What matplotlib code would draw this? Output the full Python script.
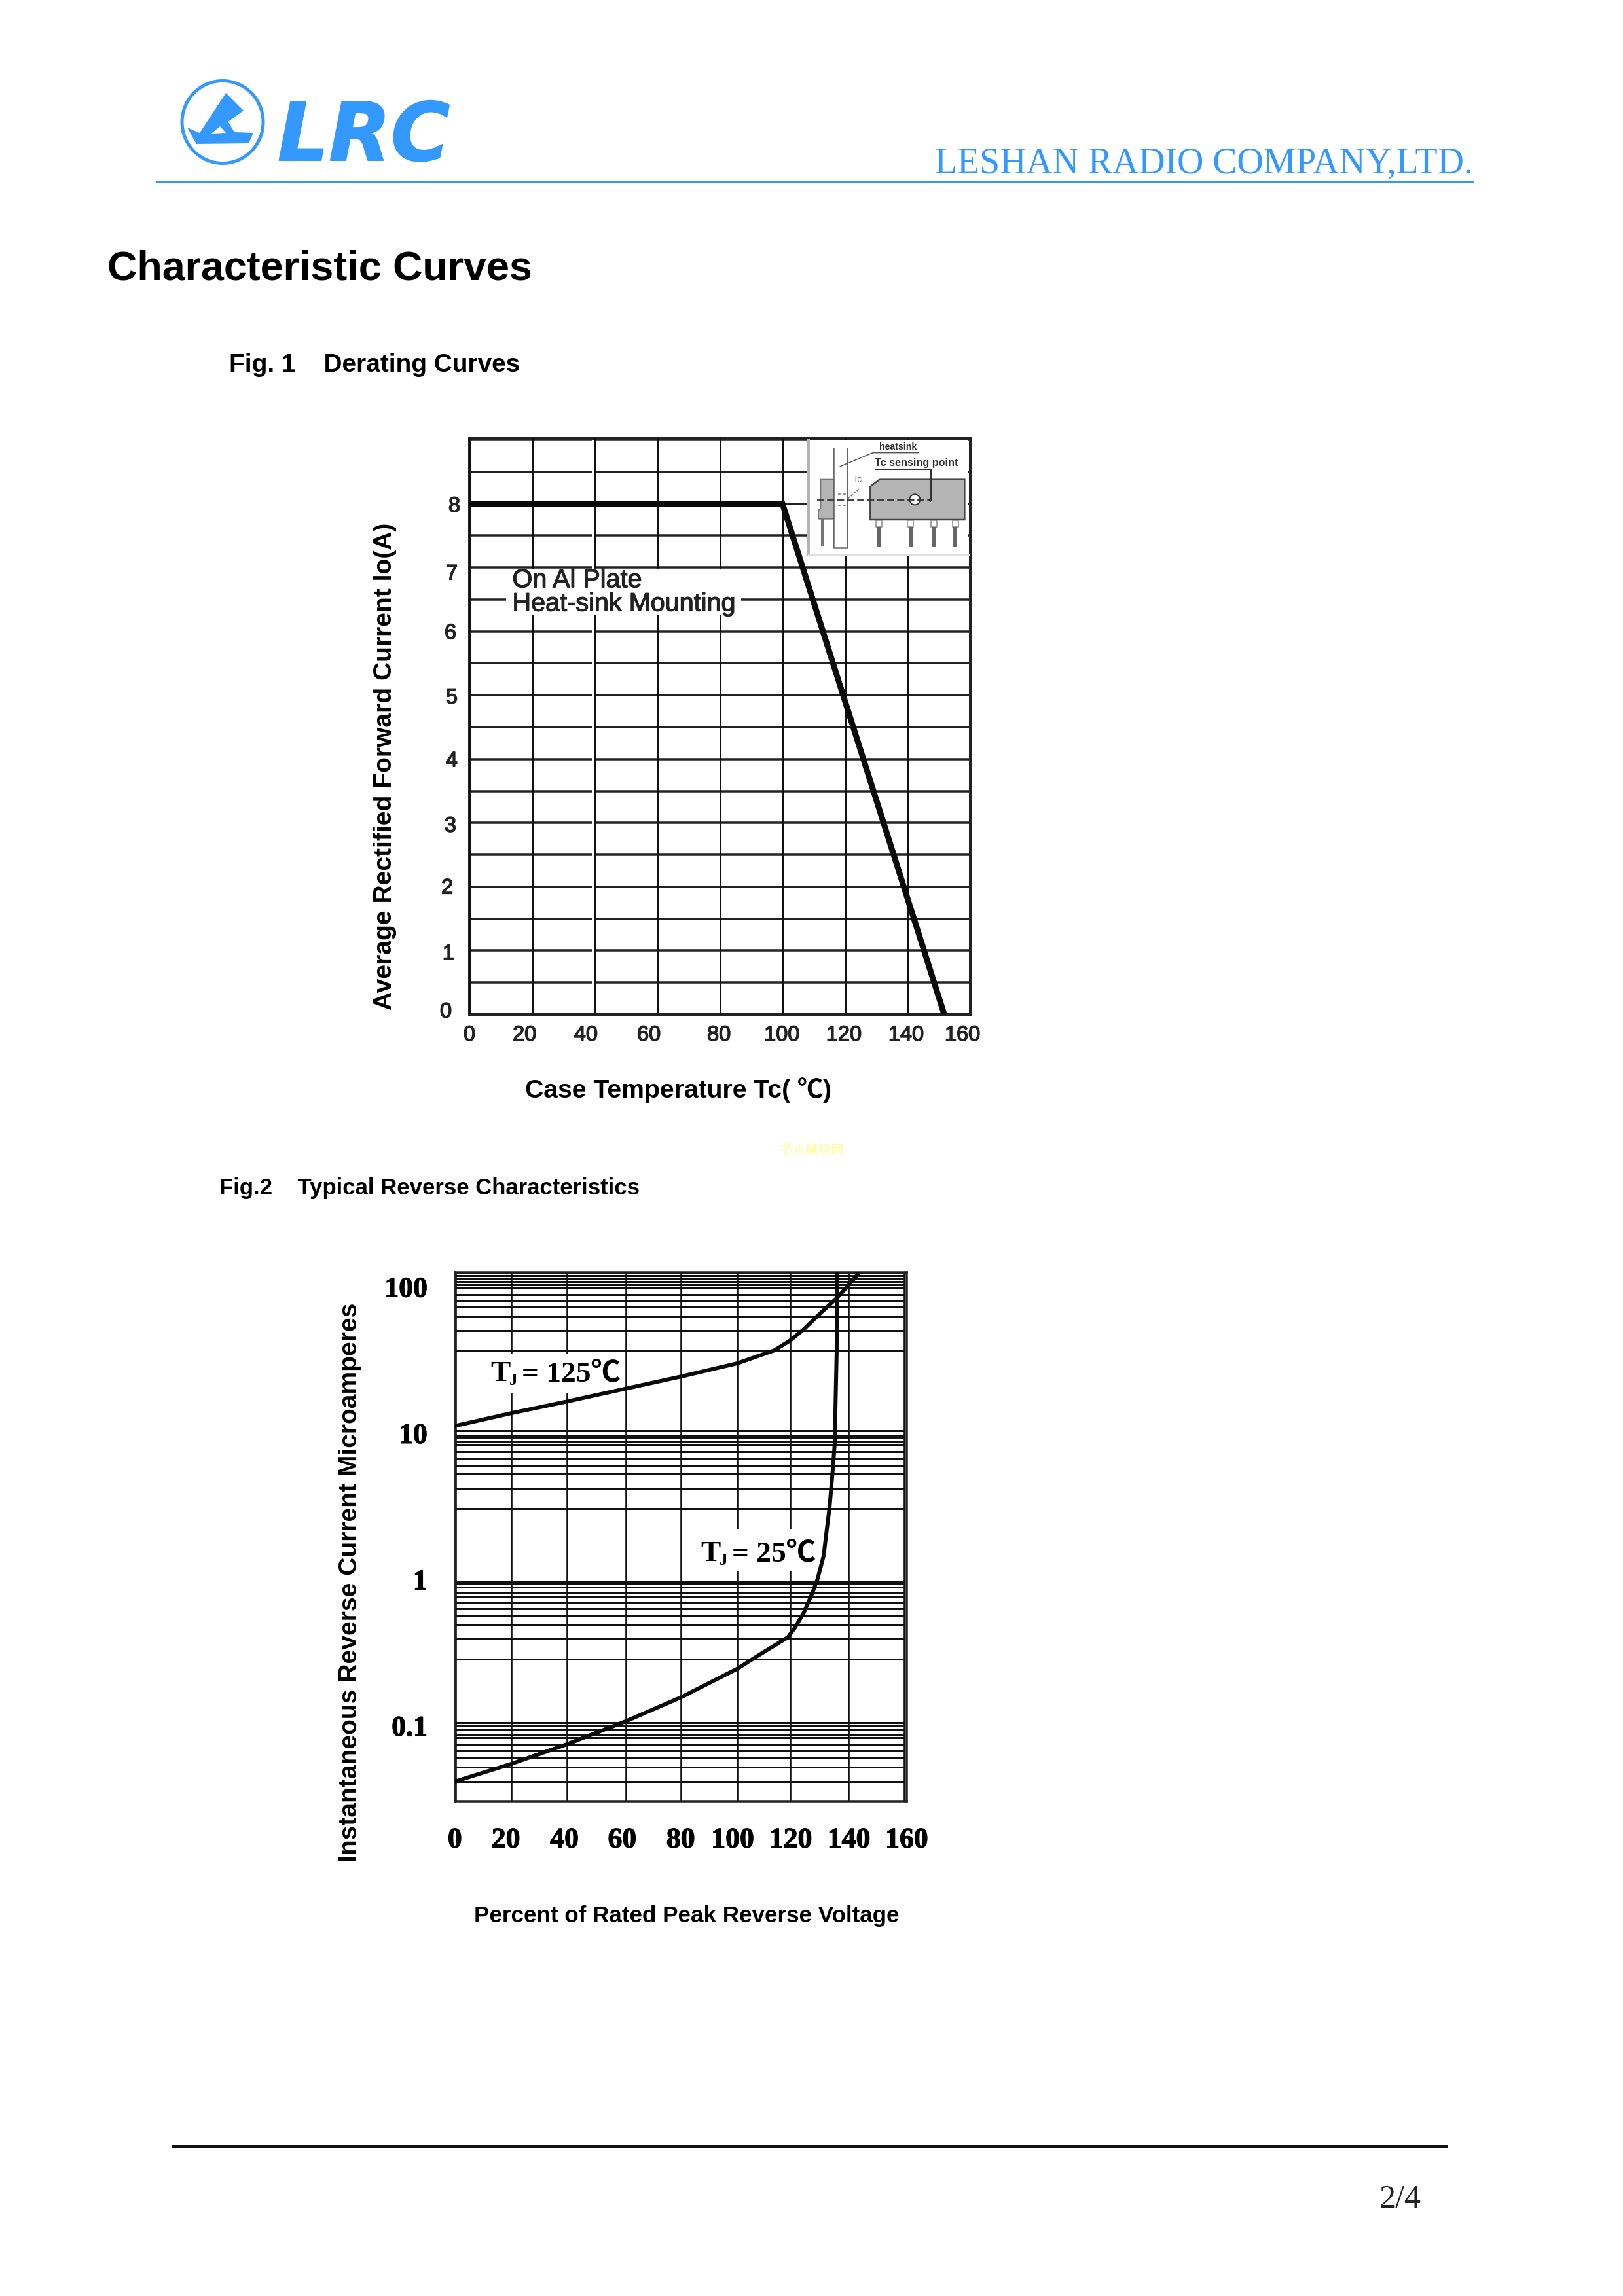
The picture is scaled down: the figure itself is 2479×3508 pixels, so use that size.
#!/usr/bin/env python3
import matplotlib

matplotlib.use("Agg")
import matplotlib.patheffects as pe
import matplotlib.pyplot as plt
from matplotlib.patches import Circle, Ellipse, Polygon, Rectangle
from matplotlib.ticker import NullLocator

W, H = 2479, 3508
DPI = 300
BLUE = "#3399ff"
SANS = ["Liberation Sans", "Noto Sans CJK SC", "DejaVu Sans"]
SERIF = ["Liberation Serif", "Noto Sans CJK SC", "DejaVu Sans"]

# Fig. 1 derating curve
derate_temp = [0, 100, 151.7]
derate_current = [8, 8, 0]
fig1_x_grid = [0, 20, 40, 60, 80, 100, 120, 140, 160]
fig1_y_grid = [0, 0.5, 1, 1.5, 2, 2.5, 3, 3.5, 4, 4.5, 5, 5.5, 6, 6.5, 7, 7.5, 8, 8.5, 9]
fig1_x_label_at = [0, 17.6, 37.2, 57.3, 79.7, 99.8, 119.6, 139.5, 157.5]
fig1_x_labels = ["0", "20", "40", "60", "80", "100", "120", "140", "160"]
fig1_y_label_at = [0.07, 0.98, 2.01, 2.98, 4.0, 4.99, 6.0, 6.93, 7.99]
fig1_y_labels = ["0", "1", "2", "3", "4", "5", "6", "7", "8"]
fig1_y_label_pad = [27, 23, 25, 20, 18, 18, 20, 18, 14]

# Fig. 2 reverse characteristics
t125_voltage = [0, 19.8, 39.7, 60.7, 80.4, 100.4, 113.7, 119.3, 124.3, 129.7, 136.0, 140.3, 143.5]
t125_current = [11.2, 13.65, 16.4, 20.1, 24.3, 29.9, 36.7, 42.8, 51.3, 64.7, 83.7, 102.8, 122]
t25_voltage = [0, 19.8, 39.7, 60.7, 80.4, 100.4, 108.4, 118.5, 121.1, 124.3, 127.0, 129.1,
               131.3, 132.3, 133.4, 134.4, 135.3, 135.5, 136.0, 136.2]
t25_current = [0.0416, 0.0547, 0.0745, 0.107, 0.156, 0.244, 0.305, 0.401, 0.468, 0.596, 0.783, 1.0,
               1.45, 2.1, 3.10, 5.20, 8.71, 14.6, 40.8, 125]
fig2_x_grid = [0, 19.8, 39.7, 60.7, 80.4, 100.4, 119.3, 140.1, 160]
fig2_y_grid = [125.3, 118.9, 114, 108.1, 103.5, 98.2, 88.1, 79.4, 72.4, 63.1, 50, 36.5,
               10.4, 9.68, 9.23, 8.73, 8.32, 7.48, 6.70, 5.98, 5.24, 4.14, 3.04,
               0.973, 0.931, 0.883, 0.811, 0.762, 0.700, 0.627, 0.560, 0.484, 0.392, 0.284,
               0.1045, 0.0998, 0.0933, 0.0871, 0.0826, 0.0745, 0.0673, 0.0607, 0.0520, 0.0416, 0.0305]
fig2_x_label_at = [-0.3, 17.9, 38.8, 59.4, 80.3, 98.8, 119.5, 140.3, 160.9]
fig2_x_labels = ["0", "20", "40", "60", "80", "100", "120", "140", "160"]
fig2_y_ticks = [0.1, 1, 10, 100]
fig2_y_labels = ["0.1", "1", "10", "100"]


def px(v):
    return v * 72 / DPI


def axes_at(fig, left, top, right, bottom, **kw):
    return fig.add_axes([left / W, 1 - bottom / H, (right - left) / W, (bottom - top) / H], **kw)


def draw_page(page):
    # logo
    page.add_patch(Ellipse((340, 186.5), 124, 126, fill=False, ec=BLUE, lw=px(5)))
    page.add_patch(Polygon([(345, 142), (372, 169), (348.5, 186), (358, 202), (387, 203), (380, 219),
                            (300, 220), (286, 195), (305, 203)], fc=BLUE, ec="none"))
    page.add_patch(Polygon([(323, 204), (336, 193), (345, 203)], fc="white", ec="none"))
    page.text(424, 245, "LRC", family="DejaVu Sans", weight="bold", style="oblique", fontsize=29.5, color=BLUE,
              ha="left", va="baseline", path_effects=[pe.withStroke(linewidth=px(2), foreground=BLUE)])
    page.text(2250, 264, "LESHAN RADIO COMPANY,LTD.", family=SERIF, fontsize=13.4, color=BLUE,
              ha="right", va="baseline")
    page.plot([238, 2252], [278, 278], color=BLUE, lw=px(4), solid_capstyle="butt")

    page.text(164, 427, "Characteristic Curves", family=SANS, weight="bold", fontsize=15.05, va="baseline")
    page.text(350, 568, "Fig. 1    Derating Curves", family=SANS, weight="bold", fontsize=9.3, va="baseline")
    page.text(335, 1825, "Fig.2    Typical Reverse Characteristics", family=SANS, weight="bold",
              fontsize=8.35, va="baseline")
    page.text(588, 1171, "Average Rectified Forward Current Io(A)", family=SANS, weight="bold", fontsize=9.37,
              rotation=90, ha="center", va="center")
    page.text(1036, 1666, "Case Temperature Tc( ℃)", family=SANS, weight="bold", fontsize=9.4,
              ha="center", va="center")
    page.text(535, 2418, "Instantaneous Reverse Current Microamperes", family=SANS, weight="bold", fontsize=9.36,
              rotation=90, ha="center", va="center")
    page.text(1049, 2928, "Percent of Rated Peak Reverse Voltage", family=SANS, weight="bold", fontsize=8.4,
              ha="center", va="center")
    page.text(1240, 1757, "芯片模块网", family=["Noto Sans CJK SC", "DejaVu Sans"], fontsize=4.7, color="#ffff99",
              ha="center", va="center")

    page.plot([262, 2211], [3280, 3280], color="#111111", lw=px(4), solid_capstyle="butt")
    page.text(2139, 3373, "2/4", family=SERIF, fontsize=12, color="#222222", ha="center", va="baseline")


def draw_inset(page):
    def p(zx, zy):
        return 1200 + zx / 3, 640 + zy / 3

    page.add_patch(Rectangle((1235, 673), 244, 174, fc="white", ec="none"))
    page.plot([1235, 1235], [673, 847], color="#b5b5b5", lw=px(4))
    page.plot([1235, 1479], [847, 847], color="#dddddd", lw=px(3))

    gray = "#b4b4b4"
    dark = "#333333"
    # side view
    page.add_patch(Polygon([p(160, 278), p(220, 278), p(220, 458), p(150, 458), p(150, 420), p(160, 410)],
                           fc=gray, ec="#777777", lw=px(2)))
    page.add_patch(Rectangle(p(162, 458), 5, 41, fc="#777777", ec="none"))
    page.plot(*zip(p(220, 135), p(220, 590), p(282, 590), p(282, 135)), color="#666666", lw=px(2.5))
    # front view
    page.add_patch(Polygon([p(388, 310), p(430, 278), p(820, 278), p(820, 462), p(388, 462)],
                           fc=gray, ec="#444444", lw=px(2.5)))
    for zx in [428, 572, 680, 778]:
        page.add_patch(Rectangle(p(zx - 14, 465), 9, 10, fc="white", ec="#888888", lw=px(1.5)))
        page.add_patch(Rectangle(p(zx - 9, 495), 6, 30, fc="#666666", ec="none"))
    page.add_patch(Circle(p(592, 370), 8, fc="white", ec=dark, lw=px(2)))
    # sensing point and leaders
    page.plot(*zip(p(145, 371), p(665, 371)), color=dark, lw=px(1.8), ls=(0, (6, 2.5)))
    page.plot(*zip(p(240, 344), p(280, 344)), color="#777777", lw=px(1.5), ls=(0, (3, 2)))
    page.plot(*zip(p(240, 397), p(280, 397)), color="#777777", lw=px(1.5), ls=(0, (3, 2)))
    page.plot(*zip(p(285, 365), p(340, 318)), color="#777777", lw=px(2), ls=(0, (2, 1)))
    page.plot(*zip(p(415, 230), p(665, 230), p(665, 372)), color=dark, lw=px(2))
    page.add_patch(Circle(p(663, 372), 2.5, fc="black", ec="none"))
    page.plot(*zip(p(250, 218), p(400, 155), p(610, 155)), color="#555555", lw=px(1.5))
    page.text(*p(515, 130), "heatsink", family=SANS, weight="bold", fontsize=3.4, color=dark,
              ha="center", va="center")
    page.text(*p(600, 202), "Tc sensing point", family=SANS, weight="bold", fontsize=3.9, color=dark,
              ha="center", va="center")
    page.text(*p(328, 278), "Tc", family=SANS, fontsize=3.4, color="#555555", ha="center", va="center")


def draw_fig1(ax):
    ax.hlines(fig1_y_grid, 0, 160, color="#222222", lw=px(3.5), zorder=1)
    ax.axvline(39.3, color="white", lw=px(3), zorder=2)
    ax.vlines(fig1_x_grid, 0, 9.02, color="#111111", lw=px(3), zorder=3)
    ax.add_patch(Rectangle((11.7, 6.25), 75.1, 0.73, fc="white", ec="none", zorder=4))
    ax.plot(derate_temp, derate_current, color="#0a0a0a", lw=px(9), zorder=5, solid_joinstyle="miter")
    stroke = [pe.withStroke(linewidth=px(1.2), foreground="#222222")]
    ax.text(13.7, 6.69, "On Al Plate", family=SANS, fontsize=9.5, color="#222222", va="baseline",
            zorder=6, path_effects=stroke)
    ax.text(13.7, 6.32, "Heat-sink Mounting", family=SANS, fontsize=9.5, color="#222222", va="baseline",
            zorder=6, path_effects=stroke)
    ax.set_xlim(0, 160)
    ax.set_ylim(0, 9.02)
    ax.set_xticks(fig1_x_label_at, fig1_x_labels, family=SANS, fontsize=7.8, color="#222222")
    ax.set_yticks(fig1_y_label_at, fig1_y_labels, family=SANS, fontsize=7.8, color="#222222")
    ax.tick_params(axis="both", length=0)
    ax.tick_params(axis="x", pad=px(17))
    for tick, pad in zip(ax.yaxis.get_major_ticks(), fig1_y_label_pad):
        tick.set_pad(px(pad))
    for label in ax.get_xticklabels() + ax.get_yticklabels():
        label.set_path_effects([pe.withStroke(linewidth=px(1.5), foreground="#222222")])
    for spine in ax.spines.values():
        spine.set_linewidth(px(4))
        spine.set_color("#222222")


def draw_fig2(ax):
    ax.set_yscale("log")
    ax.hlines(fig2_y_grid, 0, 160, color="#111111", lw=px(3), zorder=1)
    ax.vlines(fig2_x_grid, 0.0305, 125.3, color="#111111", lw=px(2.6), zorder=2)
    # the curve labels blank out the grid behind them
    ax.add_patch(Rectangle((11.4, 18.85), 48.3, 16.12, fc="white", ec="none", zorder=3))
    ax.add_patch(Rectangle((86.1, 1.13), 39.4, 1.08, fc="white", ec="none", zorder=3))
    ax.plot(t125_voltage, t125_current, color="#0a0a0a", lw=px(6), zorder=5)
    ax.plot(t25_voltage, t25_current, color="#0a0a0a", lw=px(6), zorder=5)
    ax.set_xlim(0, 160)
    ax.set_ylim(0.0305, 125.3)
    ax.yaxis.set_minor_locator(NullLocator())
    ax.set_xticks(fig2_x_label_at, fig2_x_labels, family=SERIF, weight="bold", fontsize=10.5)
    ax.set_yticks(fig2_y_ticks, fig2_y_labels, family=SERIF, weight="bold", fontsize=10.5)
    ax.tick_params(axis="both", which="both", length=0)
    ax.tick_params(axis="x", pad=px(40))
    ax.tick_params(axis="y", pad=px(42))
    for label in ax.get_xticklabels() + ax.get_yticklabels():
        label.set_path_effects([pe.withStroke(linewidth=px(1.2), foreground="black")])
    for spine in ax.spines.values():
        spine.set_linewidth(px(3.5))
        spine.set_color("#222222")


def draw_fig2_notes(page):
    page.text(749, 2110, "T", family=SERIF, weight="bold", fontsize=10.9, va="baseline")
    page.text(778, 2116, "J", family=SERIF, weight="bold", fontsize=6, va="baseline")
    page.text(797, 2110, "= 125℃", family=SERIF, weight="bold", fontsize=10.9, va="baseline")
    page.text(1070, 2385, "T", family=SERIF, weight="bold", fontsize=10.9, va="baseline")
    page.text(1099, 2391, "J", family=SERIF, weight="bold", fontsize=6, va="baseline")
    page.text(1118, 2385, "= 25℃", family=SERIF, weight="bold", fontsize=10.9, va="baseline")


def main() -> None:
    fig = plt.figure(figsize=(W / DPI, H / DPI), dpi=DPI, facecolor="white")

    ax1 = axes_at(fig, 717, 670, 1482, 1550)
    ax2 = axes_at(fig, 694.7, 1944, 1384.8, 2751.7)
    draw_fig1(ax1)
    draw_fig2(ax2)

    # page furniture sits above the charts, in page pixels
    page = fig.add_axes([0, 0, 1, 1], zorder=10)
    page.patch.set_alpha(0)
    page.set_xlim(0, W)
    page.set_ylim(H, 0)
    page.axis("off")
    draw_page(page)
    draw_inset(page)
    draw_fig2_notes(page)

    fig.savefig("out.png", dpi=DPI)
    plt.close(fig)


if __name__ == "__main__":
    main()
